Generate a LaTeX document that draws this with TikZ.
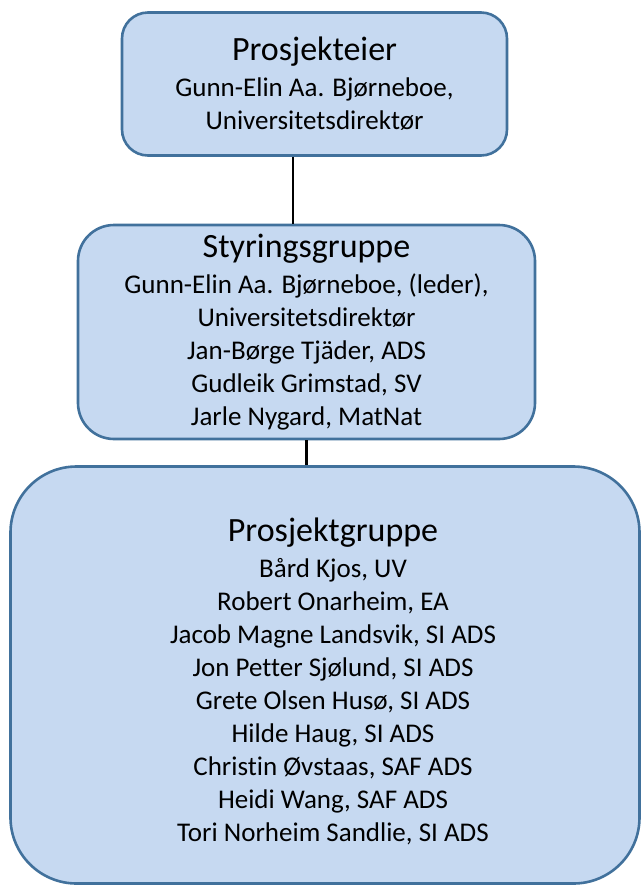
\documentclass[tikz,border=0pt]{standalone}
\usepackage{fontspec}
\setmainfont{Carlito}[Ligatures=NoCommon]
\usepackage{tikz}
\usetikzlibrary{positioning,calc}
\definecolor{boxfill}{HTML}{C6D9F1}
\definecolor{boxline}{HTML}{41719C}
\newcommand{\headtxt}[1]{{\fontsize{34}{36}\selectfont #1}}
\tikzset{
  orgbox/.style={draw=boxline, line width=2.6pt, fill=boxfill, rectangle, align=center,
    font=\fontsize{27}{33}\selectfont, text=black, inner sep=0pt},
  orgtxt/.style={align=center, font=\fontsize{27}{33}\selectfont, text=black, inner sep=0pt},
  conn/.style={line width=2.6pt, black},
}

\begin{document}
\begin{tikzpicture}[x=1pt, y=-1pt]
    \useasboundingbox (0,0) rectangle (644,887);
    % nodes
    \node[orgbox, rounded corners=26pt, minimum width=385pt, minimum height=143pt]
      (eier) at (314.5,84) {\headtxt{Prosjekteier}\\[3pt]
      Gunn-Elin Aa. Bjørneboe,\\ Universitetsdirektør};
    \node[orgbox, rounded corners=36pt, minimum width=457pt, minimum height=214pt]
      (styring) at (306.5,332) {\headtxt{Styringsgruppe}\\[3pt]
      Gunn-Elin Aa. Bjørneboe, (leder),\\ Universitetsdirektør\\
      Jan-Børge Tjäder, ADS\\ Gudleik Grimstad, SV\\ Jarle Nygard, MatNat};
    \node[orgbox, rounded corners=66pt, minimum width=629pt, minimum height=417pt]
      (prosjekt) at (325,675) {};
    \node[orgtxt, xshift=8pt, yshift=-6pt] (prosjekttxt) at (prosjekt) {\headtxt{Prosjektgruppe}\\[3pt]
      Bård Kjos, UV\\ Robert Onarheim, EA\\ Jacob Magne Landsvik, SI ADS\\
      Jon Petter Sjølund, SI ADS\\ Grete Olsen Husø, SI ADS\\ Hilde Haug, SI ADS\\
      Christin Øvstaas, SAF ADS\\ Heidi Wang, SAF ADS\\ Tori Norheim Sandlie, SI ADS};

    % connectors
    \draw[conn] ([xshift=-21.5pt]eier.south) -- ([xshift=-21.5pt]eier.south |- styring.north);
    \draw[conn] (styring.south) -- (styring.south |- prosjekt.north);
\end{tikzpicture}
\end{document}
